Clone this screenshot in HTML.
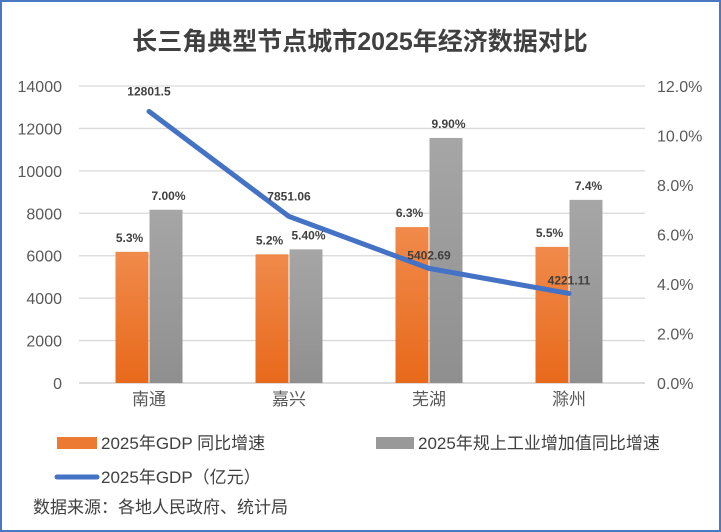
<!DOCTYPE html>
<html><head><meta charset="utf-8"><style>
html,body{margin:0;padding:0;background:#fff}
body{width:721px;height:532px;overflow:hidden;font-family:"Liberation Sans","Noto Sans CJK SC",sans-serif}
#frame{position:absolute;left:0;top:0;width:717px;height:528px;border:2px solid #4a78c2}
</style></head><body>
<div id="frame"></div>
<svg id="chart" width="721" height="532" style="position:absolute;left:0;top:0" font-family="Liberation Sans, Noto Sans CJK SC, sans-serif">
<defs>
<linearGradient id="og" x1="0" y1="0" x2="0" y2="1"><stop offset="0" stop-color="#f08a4b"/><stop offset="1" stop-color="#e8691b"/></linearGradient>
<linearGradient id="gg" x1="0" y1="0" x2="0" y2="1"><stop offset="0" stop-color="#a6a6a6"/><stop offset="1" stop-color="#8f8f8f"/></linearGradient>
</defs>
<text x="360" y="50" text-anchor="middle" font-size="25" font-weight="bold" fill="#404040">长三角典型节点城市2025年经济数据对比</text>
<g id="grid"></g><g id="bars"></g><g id="line"></g><g id="labels"></g>
<rect x="57" y="437" width="40" height="12" fill="#ec7a32"/>
<text x="101" y="449" font-size="17" fill="#404040">2025年GDP 同比增速</text>
<rect x="376" y="437" width="38" height="12" fill="#999"/>
<text x="418" y="449" font-size="17" fill="#404040">2025年规上工业增加值同比增速</text>
<line x1="57" y1="477" x2="97" y2="477" stroke="#4472c4" stroke-width="5" stroke-linecap="round"/>
<text x="101" y="483" font-size="17" fill="#404040">2025年GDP（亿元）</text>
<text x="33" y="513" font-size="17" fill="#404040">数据来源：各地人民政府、统计局</text>
</svg>
<script>
const categories=["南通","嘉兴","芜湖","滁州"];
const gdp=[12801.5,7851.06,5402.69,4221.11];
const gdpLabels=["12801.5","7851.06","5402.69","4221.11"];
const gdpGrowth=[5.3,5.2,6.3,5.5];
const gdpGrowthLabels=["5.3%","5.2%","6.3%","5.5%"];
const indGrowth=[7.0,5.4,9.9,7.4];
const indGrowthLabels=["7.00%","5.40%","9.90%","7.4%"];
const leftTicks=[0,2000,4000,6000,8000,10000,12000,14000];
const rightTicks=["0.0%","2.0%","4.0%","6.0%","8.0%","10.0%","12.0%"];
const NS="http://www.w3.org/2000/svg";
const X0=79,X1=639,Y0=383,Y1=86;
const yL=v=>Y0-(Y0-Y1)*v/14000;
const yR=v=>Y0-(Y0-Y1)*v/12;
const band=(X1-X0)/categories.length;
const xC=i=>X0+band*(i+0.5);
function mk(t,a,p){const e=document.createElementNS(NS,t);for(const k in a)e.setAttribute(k,a[k]);p.appendChild(e);return e;}
const grid=document.getElementById('grid'),bars=document.getElementById('bars'),line=document.getElementById('line'),labels=document.getElementById('labels');
leftTicks.forEach((v,i)=>{
  const l=mk('line',{x1:X0,x2:X1+6,y1:yL(v),y2:yL(v),stroke:i===0?'#c8c8c8':'#d9d9d9','stroke-width':1.3},grid);
  
  
  const t=mk('text',{x:62,y:yL(v)+6,'text-anchor':'end','font-size':16,fill:'#595959'},grid);t.textContent=v;
  
  
});
rightTicks.forEach((s,i)=>{
  const t=mk('text',{x:657,y:yR(i*2)+6,'font-size':16,fill:'#595959'},grid);t.textContent=s;
  
  
});
const bw=33;
categories.forEach((c,i)=>{
  const xc=xC(i);
  const t=mk('text',{x:xc,y:405,'text-anchor':'middle','font-size':17,fill:'#595959'},grid);t.textContent=c;
  
  
  const b1=mk('rect',{x:xc-bw-0.5,y:yR(gdpGrowth[i]),width:bw,height:Y0-yR(gdpGrowth[i]),fill:'url(#og)'},bars);
  
  
  const b2=mk('rect',{x:xc+0.5,y:yR(indGrowth[i]),width:bw,height:Y0-yR(indGrowth[i]),fill:'url(#gg)'},bars);
  
  
  const l1=mk('text',{x:xc-bw/2-3,y:yR(gdpGrowth[i])-10,'text-anchor':'middle','font-size':12,'font-weight':'bold',fill:'#404040'},labels);l1.textContent=gdpGrowthLabels[i];
  
  
  const l2=mk('text',{x:xc+bw/2+3,y:yR(indGrowth[i])-10,'text-anchor':'middle','font-size':12,'font-weight':'bold',fill:'#404040'},labels);l2.textContent=indGrowthLabels[i];
  
  
  const l3=mk('text',{x:xc,y:yL(gdp[i])-(i>=2?9:16),'text-anchor':'middle','font-size':12,'font-weight':'bold',fill:'#404040'},labels);l3.textContent=gdpLabels[i];
  
  
});
const p=mk('polyline',{points:gdp.map((v,i)=>xC(i)+','+yL(v)).join(' '),fill:'none',stroke:'#4472c4','stroke-width':5,'stroke-linecap':'round','stroke-linejoin':'round'},line);


</script>
</body></html>
